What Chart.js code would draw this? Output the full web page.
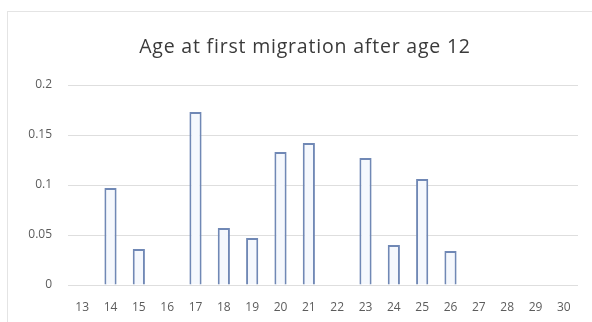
<!DOCTYPE html>
<html>
<head>
<meta charset="utf-8">
<script src="https://cdn.jsdelivr.net/npm/chart.js@4/dist/chart.umd.min.js"></script>
<style>
  html, body { margin: 0; padding: 0; background: #ffffff; overflow: hidden; }
  #wrap { position: relative; width: 592px; height: 322px; }
  #frame {
    position: absolute; left: 7px; top: 11px; width: 620px; height: 340px;
    border: 1.5px solid #e4e4e4; box-sizing: border-box;
  }
  canvas { position: absolute; left: 0; top: 0; }
</style>
</head>
<body>
<div id="wrap">
  <div id="frame"></div>
  <canvas id="chart" width="592" height="322"></canvas>
</div>
<script>
// Age (years) at first migration after age 12
const ages = ['13','14','15','16','17','18','19','20','21','22','23','24','25','26','27','28','29','30'];
// Share of migrants at each age (empty where no bar)
const shares = [null, 0.097, 0.036, null, 0.173, 0.057, 0.047, 0.133, 0.142, null, 0.127, 0.040, 0.106, 0.034, null, null, null, null];
// Value-axis tick labels
const yTicks = [0, 0.05, 0.1, 0.15, 0.2];
const yTickLabels = ['0', '0.05', '0.1', '0.15', '0.2'];
const chartTitle = 'Age at first migration after age 12';

const textFont = "'Open Sans', Lato, sans-serif";

// Title centred on the framed panel rather than on the plot area
const panelTitle = {
  id: 'panelTitle',
  afterDraw(chart) {
    const ctx = chart.ctx;
    ctx.save();
    ctx.font = `19.5px ${textFont}`;
    if ('letterSpacing' in ctx) ctx.letterSpacing = '0.8px';
    ctx.fillStyle = '#3a3a3a';
    ctx.textAlign = 'center';
    ctx.textBaseline = 'middle';
    ctx.fillText(chartTitle, 305, 47);
    ctx.restore();
  }
};

new Chart(document.getElementById('chart'), {
  type: 'bar',
  data: {
    labels: ages,
    datasets: [{
      data: shares,
      backgroundColor: '#f5f8fd',
      borderColor: '#7088b5',
      borderWidth: 2,
      barPercentage: 0.43,
      categoryPercentage: 1.0
    }]
  },
  plugins: [panelTitle],
  options: {
    responsive: false,
    animation: false,
    layout: { padding: { left: 8, right: 14, top: 85, bottom: 0 } },
    plugins: {
      legend: { display: false },
      tooltip: { enabled: false },
      title: { display: false }
    },
    scales: {
      x: {
        afterFit: (scale) => { scale.height = 37; },
        grid: { display: false, drawTicks: false },
        border: { display: false },
        ticks: {
          color: '#5c5c5c',
          font: { family: textFont, size: 12 },
          padding: 15,
          maxRotation: 0,
          autoSkip: false
        }
      },
      y: {
        min: 0,
        max: 0.2,
        afterFit: (scale) => { scale.width = 60; },
        afterBuildTicks: (scale) => { scale.ticks = yTicks.map(v => ({ value: v })); },
        grid: { color: '#dedede', lineWidth: 1, drawTicks: false },
        border: { display: false },
        ticks: {
          color: '#5c5c5c',
          font: { family: textFont, size: 12 },
          padding: 16,
          callback: (value) => {
            const i = yTicks.findIndex(t => Math.abs(t - value) < 1e-9);
            return i >= 0 ? yTickLabels[i] : '';
          }
        }
      }
    }
  }
});
</script>
</body>
</html>
